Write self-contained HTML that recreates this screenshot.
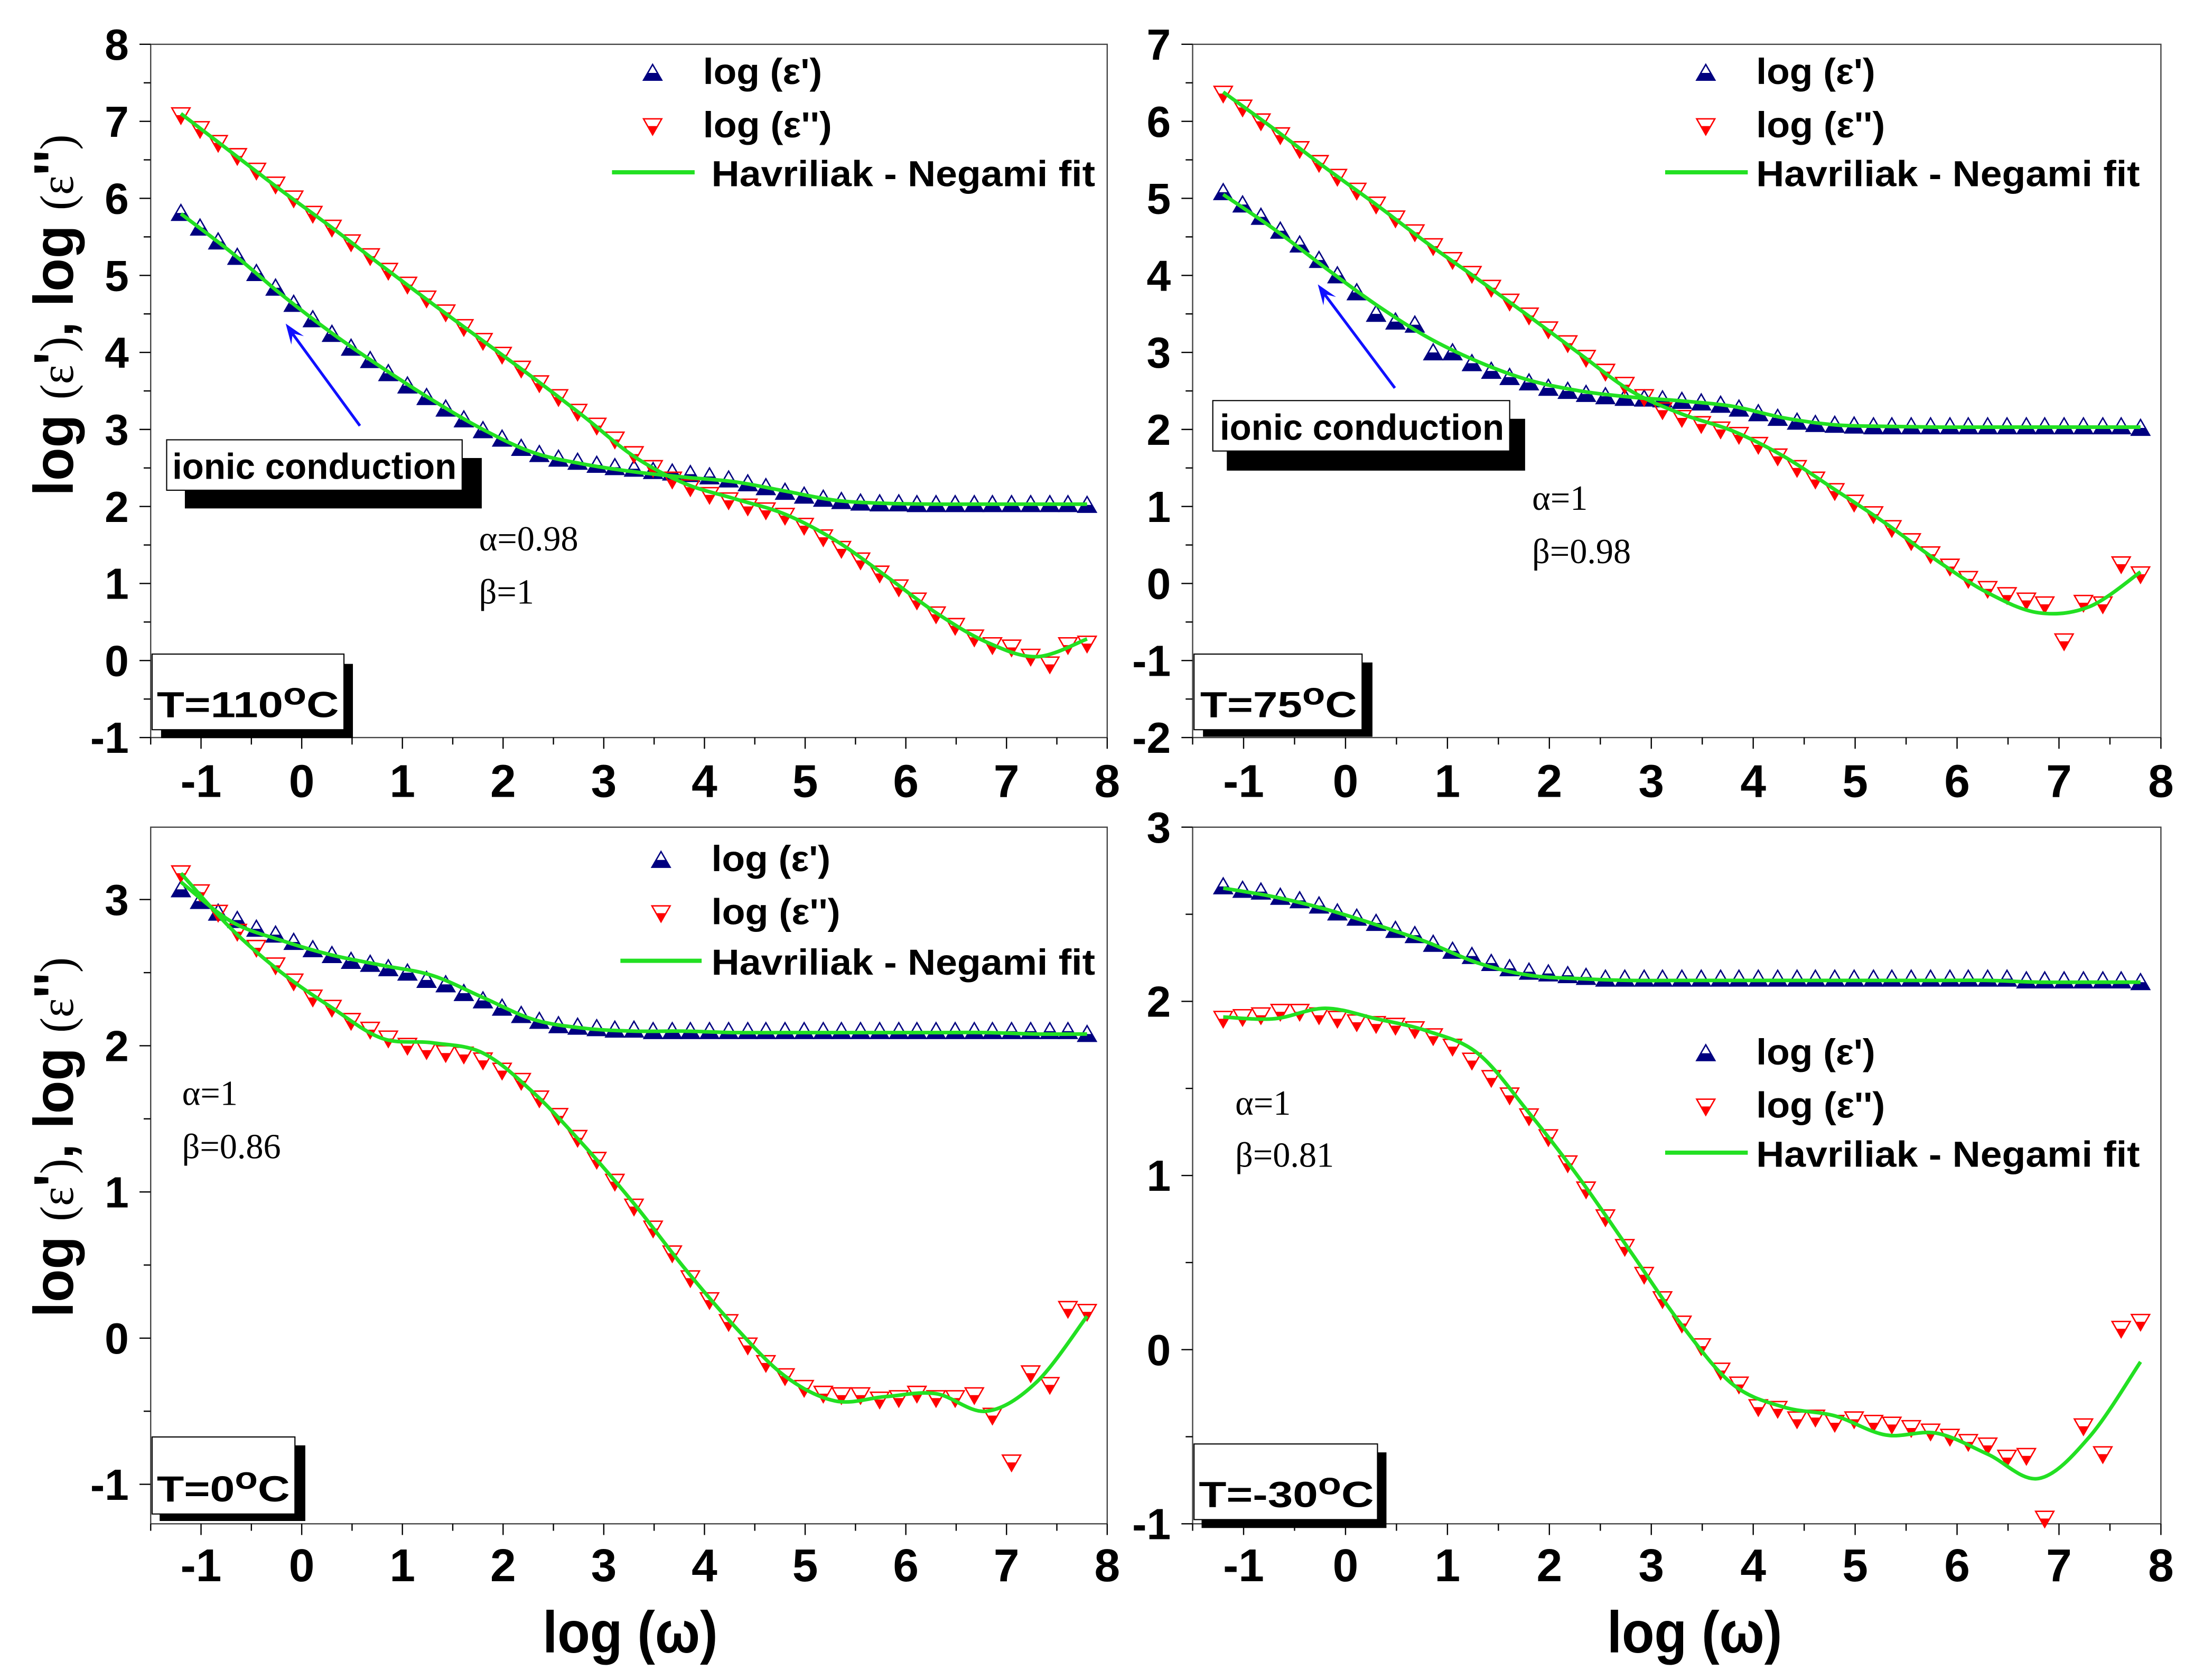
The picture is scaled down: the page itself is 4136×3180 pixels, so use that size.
<!DOCTYPE html>
<html><head><meta charset="utf-8"><style>
html,body{margin:0;padding:0;background:#fff;}
svg{display:block;}
.tk{font-family:"Liberation Sans Narrow","Liberation Sans",sans-serif;font-weight:bold;fill:#000;}
.lg{font-family:"Liberation Sans Narrow","Liberation Sans",sans-serif;font-weight:bold;font-size:26px;fill:#000;}
.ser{font-family:"Liberation Serif",serif;font-size:25px;fill:#000;}
</style></head><body>
<svg id="fig" width="4136" height="3180" viewBox="0 0 1560.2 1199.5" xmlns="http://www.w3.org/2000/svg">
<rect x="0" y="0" width="1560.2" height="1199.5" fill="#fff"/>
<g id="plots"></g>
<g id="static">
  <text transform="translate(52,225) rotate(-90)" text-anchor="middle" font-family="Liberation Sans, sans-serif" font-weight="bold" font-size="40" textLength="258" lengthAdjust="spacingAndGlyphs">log <tspan font-family="Liberation Serif, serif" font-weight="normal" font-size="34">(ε</tspan>'<tspan font-family="Liberation Serif, serif" font-weight="normal" font-size="34">)</tspan>, log <tspan font-family="Liberation Serif, serif" font-weight="normal" font-size="34">(ε</tspan>''<tspan font-family="Liberation Serif, serif" font-weight="normal" font-size="34">)</tspan></text>
  <text transform="translate(52,812) rotate(-90)" text-anchor="middle" font-family="Liberation Sans, sans-serif" font-weight="bold" font-size="40" textLength="257" lengthAdjust="spacingAndGlyphs">log <tspan font-family="Liberation Serif, serif" font-weight="normal" font-size="34">(ε</tspan>'<tspan font-family="Liberation Serif, serif" font-weight="normal" font-size="34">)</tspan>, log <tspan font-family="Liberation Serif, serif" font-weight="normal" font-size="34">(ε</tspan>''<tspan font-family="Liberation Serif, serif" font-weight="normal" font-size="34">)</tspan></text>
  <text x="450" y="1180" text-anchor="middle" font-family="Liberation Sans, sans-serif" font-weight="bold" font-size="42" textLength="125" lengthAdjust="spacingAndGlyphs">log (ω)</text>
  <text x="1210" y="1180" text-anchor="middle" font-family="Liberation Sans, sans-serif" font-weight="bold" font-size="42" textLength="125" lengthAdjust="spacingAndGlyphs">log (ω)</text>

  <g>
    <g><g id="lgm1"></g><text class="lg" x="502" y="60" textLength="85" lengthAdjust="spacingAndGlyphs">log (ε')</text></g>
    <g><g id="lgm2"></g><text class="lg" x="502" y="98" textLength="92" lengthAdjust="spacingAndGlyphs">log (ε'')</text></g>
    <g><line x1="437" y1="123" x2="496" y2="123" stroke="#22e022" stroke-width="3"/><text class="lg" x="508" y="133" textLength="274" lengthAdjust="spacingAndGlyphs">Havriliak - Negami fit</text></g>
  </g>
  <g>
    <g><g id="lgm3"></g><text class="lg" x="1254" y="60" textLength="85" lengthAdjust="spacingAndGlyphs">log (ε')</text></g>
    <g><g id="lgm4"></g><text class="lg" x="1254" y="98" textLength="92" lengthAdjust="spacingAndGlyphs">log (ε'')</text></g>
    <g><line x1="1189" y1="123" x2="1248" y2="123" stroke="#22e022" stroke-width="3"/><text class="lg" x="1254" y="133" textLength="274" lengthAdjust="spacingAndGlyphs">Havriliak - Negami fit</text></g>
  </g>
  <g>
    <g><g id="lgm5"></g><text class="lg" x="508" y="622" textLength="85" lengthAdjust="spacingAndGlyphs">log (ε')</text></g>
    <g><g id="lgm6"></g><text class="lg" x="508" y="660" textLength="92" lengthAdjust="spacingAndGlyphs">log (ε'')</text></g>
    <g><line x1="443" y1="686" x2="501" y2="686" stroke="#22e022" stroke-width="3"/><text class="lg" x="508" y="696" textLength="274" lengthAdjust="spacingAndGlyphs">Havriliak - Negami fit</text></g>
  </g>
  <g>
    <g><g id="lgm7"></g><text class="lg" x="1254" y="760" textLength="85" lengthAdjust="spacingAndGlyphs">log (ε')</text></g>
    <g><g id="lgm8"></g><text class="lg" x="1254" y="798" textLength="92" lengthAdjust="spacingAndGlyphs">log (ε'')</text></g>
    <g><line x1="1189" y1="823" x2="1248" y2="823" stroke="#22e022" stroke-width="3"/><text class="lg" x="1254" y="833" textLength="274" lengthAdjust="spacingAndGlyphs">Havriliak - Negami fit</text></g>
  </g>

  <g>
    <rect x="132" y="327" width="212" height="36" fill="#000"/>
    <rect x="119" y="314" width="211" height="36" fill="#fff" stroke="#000" stroke-width="0.8"/>
    <text class="lg" x="123" y="342" font-size="25" textLength="203" lengthAdjust="spacingAndGlyphs">ionic conduction</text>
  </g>
  <g>
    <line x1="257" y1="304" x2="208" y2="237" stroke="#1010ff" stroke-width="2"/>
    <polygon points="204,231 217,240 209,238 208,246" fill="#1010ff"/>
  </g>
  <g>
    <rect x="876" y="299" width="213" height="37" fill="#000"/>
    <rect x="866" y="286" width="212" height="36" fill="#fff" stroke="#000" stroke-width="0.8"/>
    <text class="lg" x="871" y="314" font-size="25" textLength="203" lengthAdjust="spacingAndGlyphs">ionic conduction</text>
  </g>
  <g>
    <line x1="996" y1="277" x2="945" y2="209" stroke="#1010ff" stroke-width="2"/>
    <polygon points="941,203 954,212 946,210 945,218" fill="#1010ff"/>
  </g>

  <text class="ser" x="342" y="393">α=0.98</text>
  <text class="ser" x="342" y="431">β=1</text>
  <text class="ser" x="1094" y="364">α=1</text>
  <text class="ser" x="1094" y="402">β=0.98</text>
  <text class="ser" x="130" y="789">α=1</text>
  <text class="ser" x="130" y="827">β=0.86</text>
  <text class="ser" x="882" y="796">α=1</text>
  <text class="ser" x="882" y="833">β=0.81</text>

  <g>
    <rect x="115" y="474" width="137" height="53" fill="#000"/>
    <rect x="108.6" y="467" width="137" height="54" fill="#fff" stroke="#000" stroke-width="0.8"/>
    <text class="lg" x="112" y="512" font-size="32" textLength="130" lengthAdjust="spacingAndGlyphs">T=110<tspan font-size="22" dy="-9">o</tspan><tspan dy="9">C</tspan></text>
  </g>
  <g>
    <rect x="859" y="473" width="121" height="53" fill="#000"/>
    <rect x="852.6" y="467" width="120" height="54" fill="#fff" stroke="#000" stroke-width="0.8"/>
    <text class="lg" x="857" y="512" font-size="32" textLength="112" lengthAdjust="spacingAndGlyphs">T=75<tspan font-size="22" dy="-9">o</tspan><tspan dy="9">C</tspan></text>
  </g>
  <g>
    <rect x="114" y="1032" width="104" height="54" fill="#000"/>
    <rect x="108.6" y="1026" width="102" height="55" fill="#fff" stroke="#000" stroke-width="0.8"/>
    <text class="lg" x="112" y="1072" font-size="32" textLength="95" lengthAdjust="spacingAndGlyphs">T=0<tspan font-size="22" dy="-9">o</tspan><tspan dy="9">C</tspan></text>
  </g>
  <g>
    <rect x="858" y="1037" width="132" height="54" fill="#000"/>
    <rect x="852.6" y="1031" width="131" height="54" fill="#fff" stroke="#000" stroke-width="0.8"/>
    <text class="lg" x="856" y="1076" font-size="32" textLength="125" lengthAdjust="spacingAndGlyphs">T=-30<tspan font-size="22" dy="-9">o</tspan><tspan dy="9">C</tspan></text>
  </g>
</g>
</svg>
<script>
const xVals = [-1.2,-1.01,-0.83,-0.64,-0.45,-0.26,-0.08,0.11,0.3,0.49,0.68,0.86,1.05,1.24,1.43,1.61,1.8,1.99,2.18,2.36,2.55,2.74,2.93,3.11,3.3,3.49,3.68,3.86,4.05,4.24,4.43,4.61,4.8,4.99,5.18,5.36,5.55,5.74,5.93,6.11,6.3,6.49,6.68,6.86,7.05,7.24,7.43,7.61,7.8];
const fitX = [-1.2,-0.7,-0.2,0.3,0.8,1.3,1.8,2.3,2.8,3.3,3.8,4.3,4.8,5.3,5.8,6.3,6.8,7.3,7.8];
const xTickLabels = ["-1","0","1","2","3","4","5","6","7","8"];

const eps1TL = [5.81,5.62,5.44,5.24,5.03,4.84,4.63,4.43,4.24,4.06,3.9,3.73,3.57,3.42,3.27,3.13,2.99,2.88,2.76,2.68,2.62,2.58,2.54,2.51,2.49,2.46,2.44,2.42,2.39,2.35,2.3,2.25,2.19,2.14,2.1,2.07,2.05,2.04,2.04,2.03,2.03,2.03,2.03,2.03,2.03,2.03,2.03,2.03,2.02];
const eps2TL = [7.08,6.9,6.72,6.55,6.36,6.18,6.0,5.8,5.62,5.43,5.25,5.06,4.88,4.7,4.52,4.33,4.15,3.97,3.79,3.6,3.42,3.23,3.05,2.87,2.68,2.5,2.35,2.25,2.15,2.08,2.0,1.95,1.88,1.75,1.6,1.45,1.3,1.13,0.95,0.78,0.6,0.45,0.3,0.2,0.17,0.05,-0.05,0.2,0.22];
const fit1TL = [5.8,5.3,4.75,4.25,3.8,3.38,3.0,2.7,2.55,2.45,2.38,2.32,2.2,2.08,2.04,2.03,2.03,2.03,2.03];
const fit2TL = [7.1,6.6,6.1,5.62,5.12,4.63,4.15,3.67,3.17,2.65,2.3,2.1,1.9,1.56,1.1,0.62,0.24,0.05,0.28];
const yTicksTL = ["-1","0","1","2","3","4","5","6","7","8"];

const eps1TR = [5.08,4.92,4.76,4.58,4.4,4.2,4.0,3.78,3.5,3.4,3.36,3.0,3.0,2.86,2.76,2.68,2.61,2.54,2.5,2.46,2.43,2.41,2.4,2.39,2.37,2.35,2.32,2.27,2.21,2.15,2.1,2.07,2.06,2.05,2.04,2.04,2.04,2.04,2.04,2.04,2.04,2.04,2.04,2.04,2.04,2.04,2.04,2.04,2.02];
const eps2TR = [6.36,6.18,6.0,5.82,5.64,5.46,5.28,5.1,4.92,4.74,4.56,4.38,4.2,4.02,3.84,3.66,3.48,3.3,3.12,2.93,2.75,2.58,2.42,2.25,2.15,2.07,2.0,1.93,1.8,1.65,1.5,1.35,1.2,1.05,0.9,0.72,0.55,0.38,0.22,0.06,-0.07,-0.15,-0.22,-0.27,-0.75,-0.25,-0.27,0.25,0.12];
const fit1TR = [5.05,4.6,4.1,3.62,3.2,2.88,2.64,2.5,2.42,2.37,2.3,2.15,2.06,2.04,2.03,2.03,2.03,2.03,2.03];
const fit2TR = [6.38,5.9,5.4,4.92,4.42,3.95,3.47,2.98,2.5,2.2,1.98,1.65,1.22,0.78,0.3,-0.12,-0.38,-0.3,0.15];
const yTicksTR = ["-2","-1","0","1","2","3","4","5","6","7"];

const eps1BL = [3.07,2.99,2.91,2.86,2.8,2.76,2.71,2.66,2.62,2.58,2.56,2.53,2.5,2.45,2.42,2.36,2.31,2.26,2.21,2.17,2.14,2.13,2.12,2.11,2.11,2.1,2.1,2.1,2.1,2.1,2.1,2.1,2.1,2.1,2.1,2.1,2.1,2.1,2.1,2.1,2.1,2.1,2.1,2.1,2.1,2.1,2.1,2.1,2.08];
const eps2BL = [3.18,3.05,2.91,2.78,2.67,2.55,2.44,2.33,2.26,2.17,2.11,2.05,2.0,1.97,1.95,1.94,1.9,1.83,1.76,1.64,1.52,1.37,1.22,1.07,0.9,0.75,0.58,0.41,0.26,0.11,-0.05,-0.17,-0.26,-0.34,-0.38,-0.39,-0.39,-0.42,-0.41,-0.38,-0.41,-0.41,-0.39,-0.53,-0.85,-0.24,-0.32,0.2,0.18];
const fit1BL = [3.12,2.85,2.72,2.62,2.55,2.48,2.33,2.18,2.12,2.1,2.1,2.09,2.09,2.09,2.09,2.09,2.09,2.08,2.08];
const fit2BL = [3.18,2.8,2.5,2.26,2.05,2.02,1.95,1.68,1.32,0.92,0.48,0.08,-0.26,-0.43,-0.4,-0.38,-0.5,-0.3,0.15];
const yTicksBL = ["-1","0","1","2","3"];

const eps1BR = [2.66,2.64,2.63,2.6,2.58,2.55,2.51,2.48,2.45,2.41,2.38,2.33,2.29,2.26,2.22,2.19,2.17,2.16,2.15,2.14,2.13,2.13,2.13,2.13,2.13,2.13,2.13,2.13,2.13,2.13,2.13,2.13,2.13,2.13,2.13,2.13,2.13,2.13,2.13,2.13,2.13,2.13,2.12,2.12,2.12,2.12,2.12,2.12,2.11];
const eps2BR = [1.9,1.91,1.92,1.94,1.94,1.92,1.9,1.88,1.87,1.86,1.84,1.8,1.74,1.66,1.56,1.46,1.34,1.22,1.07,0.92,0.76,0.59,0.43,0.29,0.15,0.02,-0.12,-0.2,-0.33,-0.34,-0.4,-0.39,-0.42,-0.4,-0.42,-0.43,-0.45,-0.47,-0.5,-0.53,-0.55,-0.62,-0.61,-0.97,null,-0.44,-0.6,0.12,0.16];
const fit1BR = [2.65,2.6,2.53,2.44,2.34,2.22,2.15,2.13,2.12,2.12,2.12,2.12,2.12,2.12,2.12,2.12,2.11,2.11,2.11];
const fit2BR = [1.91,1.9,1.96,1.9,1.83,1.7,1.36,0.98,0.56,0.14,-0.2,-0.33,-0.38,-0.49,-0.48,-0.6,-0.74,-0.5,-0.07];
const yTicksBR = ["-1","0","1","2","3"];

const NS = "http://www.w3.org/2000/svg";
function mk(tag, attrs, parent){
  const el = document.createElementNS(NS, tag);
  for (const k in attrs) el.setAttribute(k, attrs[k]);
  if (parent) parent.appendChild(el);
  return el;
}
function upTri(g, cx, cy){
  const w = 6.5, t = 6, b = 5.2;
  const f = w*(t/(t+b));
  const fill = mk('polygon',{points:`${cx-f},${cy} ${cx+f},${cy} ${cx+w},${cy+b} ${cx-w},${cy+b}`, fill:'#000080'}, g);
  
  
  const o = mk('polygon',{points:`${cx},${cy-t} ${cx-w},${cy+b} ${cx+w},${cy+b}`, fill:'none', stroke:'#000080','stroke-width':1}, g);
  
  
}
function downTri(g, cx, cy){
  const w = 6.5, t = 5.2, b = 6.2;
  const f = w*(b/(t+b));
  const fill = mk('polygon',{points:`${cx-f},${cy} ${cx+f},${cy} ${cx},${cy+b}`, fill:'#ff0000'}, g);
  
  
  const o = mk('polygon',{points:`${cx-w},${cy-t} ${cx+w},${cy-t} ${cx},${cy+b}`, fill:'none', stroke:'#ff0000','stroke-width':1}, g);
  
  
}
function smoothPath(pts){
  let d = `M${pts[0][0]},${pts[0][1]}`;
  for (let i=0;i<pts.length-1;i++){
    const p0 = pts[Math.max(0,i-1)], p1 = pts[i], p2 = pts[i+1], p3 = pts[Math.min(pts.length-1,i+2)];
    const c1x = p1[0]+(p2[0]-p0[0])/6, c1y = p1[1]+(p2[1]-p0[1])/6;
    const c2x = p2[0]-(p3[0]-p1[0])/6, c2y = p2[1]-(p3[1]-p1[1])/6;
    d += ` C${c1x},${c1y} ${c2x},${c2y} ${p2[0]},${p2[1]}`;
  }
  return d;
}

const panels = [
  {id:'top-left', L:107.6, R:790.6, T:31.6, B:526.6, ymin:-1, ymax:8, yt:yTicksTL, e1:eps1TL, e2:eps2TL, f1:fit1TL, f2:fit2TL, labX:92, xlabY:569},
  {id:'top-right', L:851.6, R:1543, T:31.6, B:526.6, ymin:-2, ymax:7, yt:yTicksTR, e1:eps1TR, e2:eps2TR, f1:fit1TR, f2:fit2TR, labX:836, xlabY:569},
  {id:'bottom-left', L:107.6, R:790.6, T:590.6, B:1088, ymin:-1.27, ymax:3.495, yt:yTicksBL, e1:eps1BL, e2:eps2BL, f1:fit1BL, f2:fit2BL, labX:92, xlabY:1129},
  {id:'bottom-right', L:851.6, R:1543, T:590.6, B:1088, ymin:-1, ymax:3, yt:yTicksBR, e1:eps1BR, e2:eps2BR, f1:fit1BR, f2:fit2BR, labX:836, xlabY:1129}
];
const root = document.getElementById('plots');
panels.forEach(p => {
  const g = mk('g', {}, root);
  
  
  const xs = v => p.L + (v + 1.5) / 9.5 * (p.R - p.L);
  const ys = v => p.B - (v - p.ymin) / (p.ymax - p.ymin) * (p.B - p.T);
  const frame = mk('rect', {x:p.L, y:p.T, width:p.R-p.L, height:p.B-p.T, fill:'none', stroke:'#444', 'stroke-width':0.9}, g);
  
  
  const xg = mk('g', {}, g);
  
  
  for (let v = -1.5; v <= 8.001; v += 0.5){
    const major = Math.abs(v - Math.round(v)) < 1e-6;
    mk('line', {x1:xs(v), x2:xs(v), y1:p.B, y2:p.B + (major ? 8 : 5), stroke:'#000', 'stroke-width':0.9}, xg);
  }
  xTickLabels.forEach(s => {
    const t = mk('text', {x:xs(parseFloat(s)), y:p.xlabY, 'text-anchor':'middle', class:'tk', 'font-size':33}, xg);
    
    
    t.textContent = s;
  });
  const yg = mk('g', {}, g);
  
  
  for (let v = Math.ceil(p.ymin * 2) / 2; v <= p.ymax + 1e-6; v += 0.5){
    const major = Math.abs(v - Math.round(v)) < 1e-6;
    mk('line', {x1:p.L - (major ? 8 : 5), x2:p.L, y1:ys(v), y2:ys(v), stroke:'#000', 'stroke-width':0.9}, yg);
  }
  p.yt.forEach(s => {
    const t = mk('text', {x:p.labX, y:ys(parseFloat(s)) + 11, 'text-anchor':'end', class:'tk', 'font-size':31}, yg);
    
    
    t.textContent = s;
  });
  const s1 = mk('g', {}, g);
  
  
  p.e1.forEach((v, i) => { if (v !== null) upTri(s1, xs(xVals[i]), ys(v)); });
  const s2 = mk('g', {}, g);
  
  
  p.e2.forEach((v, i) => { if (v !== null) downTri(s2, xs(xVals[i]), ys(v)); });
  [p.f1, p.f2].forEach((arr, k) => {
    const pts = arr.map((v, i) => [xs(fitX[i]), ys(v)]);
    const path = mk('path', {d:smoothPath(pts), fill:'none', stroke:'#22e022', 'stroke-width':2.6, 'stroke-linejoin':'round'}, g);
    
    
  });
});
[[1,466,52,'up'],[2,466,90,'down'],[3,1218,52,'up'],[4,1218,90,'down'],[5,472,614,'up'],[6,472,652,'down'],[7,1218,752,'up'],[8,1218,790,'down']].forEach(a => {
  const g = document.getElementById('lgm' + a[0]);
  if (a[3] === 'up') upTri(g, a[1], a[2]); else downTri(g, a[1], a[2]);
});
</script>
</body></html>
